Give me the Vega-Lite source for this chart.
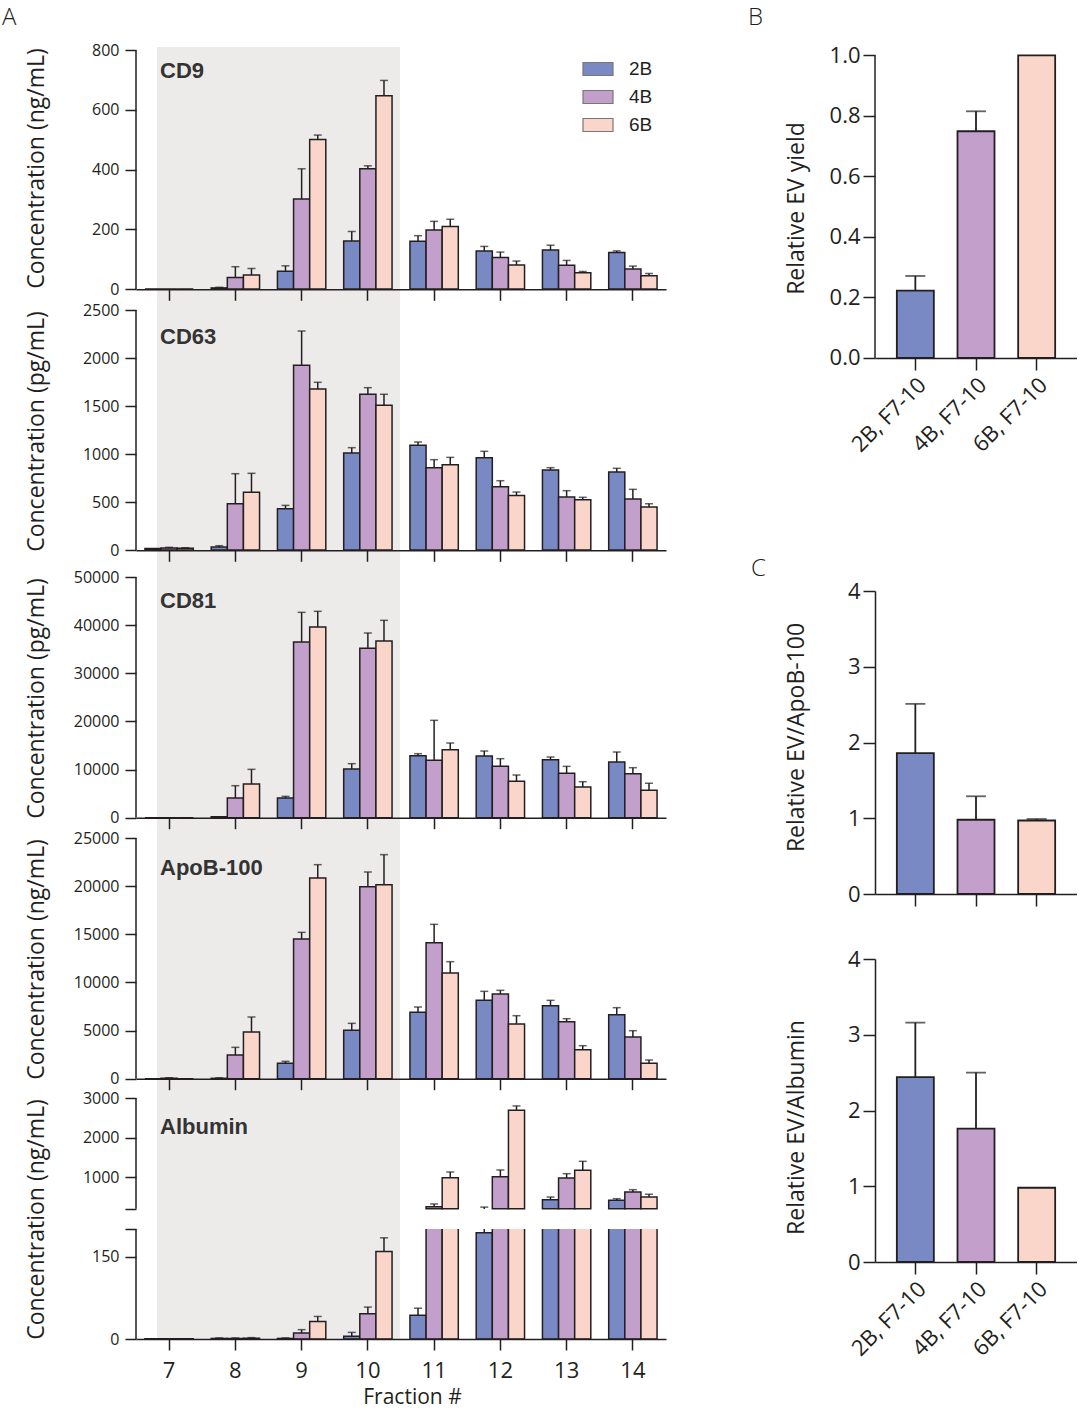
{
"$schema": "https://vega.github.io/schema/vega-lite/v6.json",
"padding": {"left": 2, "top": 6, "right": 0, "bottom": 0},
"background": "white",
"config": {
  "view": {"stroke": null},
  "font": "Open Sans",
  "axis": {"domainColor": "#231f20", "tickColor": "#231f20", "labelColor": "#231f20", "titleColor": "#231f20", "domainWidth": 1.5, "tickWidth": 1.5, "grid": false, "labelFont": "Open Sans", "titleFont": "Open Sans", "titleFontWeight": "normal", "titleBaseline": "alphabetic"},
  "legend": {"labelFont": "Liberation Sans", "labelColor": "#231f20"}
},
"datasets": {
"frac": [
{"m":"CD9","f":"7","g":"2B","v":0,"hi":null},{"m":"CD9","f":"7","g":"4B","v":0,"hi":null},{"m":"CD9","f":"7","g":"6B","v":0,"hi":null},
{"m":"CD9","f":"8","g":"2B","v":4,"hi":6},{"m":"CD9","f":"8","g":"4B","v":39,"hi":75},{"m":"CD9","f":"8","g":"6B","v":47,"hi":69},
{"m":"CD9","f":"9","g":"2B","v":60,"hi":78},{"m":"CD9","f":"9","g":"4B","v":302,"hi":403},{"m":"CD9","f":"9","g":"6B","v":501,"hi":516},
{"m":"CD9","f":"10","g":"2B","v":161,"hi":193},{"m":"CD9","f":"10","g":"4B","v":403,"hi":413},{"m":"CD9","f":"10","g":"6B","v":648,"hi":699},
{"m":"CD9","f":"11","g":"2B","v":160,"hi":179},{"m":"CD9","f":"11","g":"4B","v":198,"hi":227},{"m":"CD9","f":"11","g":"6B","v":210,"hi":234},
{"m":"CD9","f":"12","g":"2B","v":128,"hi":143},{"m":"CD9","f":"12","g":"4B","v":106,"hi":124},{"m":"CD9","f":"12","g":"6B","v":81,"hi":94},
{"m":"CD9","f":"13","g":"2B","v":131,"hi":147},{"m":"CD9","f":"13","g":"4B","v":80,"hi":96},{"m":"CD9","f":"13","g":"6B","v":55,"hi":59},
{"m":"CD9","f":"14","g":"2B","v":123,"hi":128},{"m":"CD9","f":"14","g":"4B","v":67,"hi":77},{"m":"CD9","f":"14","g":"6B","v":45,"hi":52},
{"m":"CD63","f":"7","g":"2B","v":15,"hi":null},{"m":"CD63","f":"7","g":"4B","v":20,"hi":28},{"m":"CD63","f":"7","g":"6B","v":18,"hi":24},
{"m":"CD63","f":"8","g":"2B","v":31,"hi":45},{"m":"CD63","f":"8","g":"4B","v":483,"hi":795},{"m":"CD63","f":"8","g":"6B","v":601,"hi":799},
{"m":"CD63","f":"9","g":"2B","v":431,"hi":465},{"m":"CD63","f":"9","g":"4B","v":1924,"hi":2281},{"m":"CD63","f":"9","g":"6B","v":1677,"hi":1747},
{"m":"CD63","f":"10","g":"2B","v":1010,"hi":1066},{"m":"CD63","f":"10","g":"4B","v":1622,"hi":1691},{"m":"CD63","f":"10","g":"6B","v":1507,"hi":1622},
{"m":"CD63","f":"11","g":"2B","v":1090,"hi":1125},{"m":"CD63","f":"11","g":"4B","v":858,"hi":941},{"m":"CD63","f":"11","g":"6B","v":889,"hi":965},
{"m":"CD63","f":"12","g":"2B","v":962,"hi":1028},{"m":"CD63","f":"12","g":"4B","v":660,"hi":722},{"m":"CD63","f":"12","g":"6B","v":569,"hi":604},
{"m":"CD63","f":"13","g":"2B","v":833,"hi":858},{"m":"CD63","f":"13","g":"4B","v":552,"hi":618},{"m":"CD63","f":"13","g":"6B","v":524,"hi":549},
{"m":"CD63","f":"14","g":"2B","v":812,"hi":851},{"m":"CD63","f":"14","g":"4B","v":531,"hi":632},{"m":"CD63","f":"14","g":"6B","v":448,"hi":483},
{"m":"CD81","f":"7","g":"2B","v":0,"hi":null},{"m":"CD81","f":"7","g":"4B","v":0,"hi":null},{"m":"CD81","f":"7","g":"6B","v":0,"hi":null},
{"m":"CD81","f":"8","g":"2B","v":200,"hi":null},{"m":"CD81","f":"8","g":"4B","v":4086,"hi":6648},{"m":"CD81","f":"8","g":"6B","v":6994,"hi":10041},
{"m":"CD81","f":"9","g":"2B","v":4086,"hi":4432},{"m":"CD81","f":"9","g":"4B","v":36496,"hi":42660},{"m":"CD81","f":"9","g":"6B","v":39612,"hi":42867},
{"m":"CD81","f":"10","g":"2B","v":10111,"hi":11219},{"m":"CD81","f":"10","g":"4B","v":35180,"hi":38366},{"m":"CD81","f":"10","g":"6B","v":36704,"hi":40997},
{"m":"CD81","f":"11","g":"2B","v":12881,"hi":13296},{"m":"CD81","f":"11","g":"4B","v":11911,"hi":20222},{"m":"CD81","f":"11","g":"6B","v":14127,"hi":15512},
{"m":"CD81","f":"12","g":"2B","v":12812,"hi":13850},{"m":"CD81","f":"12","g":"4B","v":10665,"hi":12258},{"m":"CD81","f":"12","g":"6B","v":7548,"hi":8864},
{"m":"CD81","f":"13","g":"2B","v":12050,"hi":12604},{"m":"CD81","f":"13","g":"4B","v":9211,"hi":10665},{"m":"CD81","f":"13","g":"6B","v":6371,"hi":7479},
{"m":"CD81","f":"14","g":"2B","v":11565,"hi":13643},{"m":"CD81","f":"14","g":"4B","v":9141,"hi":10388},{"m":"CD81","f":"14","g":"6B","v":5679,"hi":7133},
{"m":"ApoB-100","f":"7","g":"2B","v":0,"hi":null},{"m":"ApoB-100","f":"7","g":"4B","v":40,"hi":100},{"m":"ApoB-100","f":"7","g":"6B","v":0,"hi":null},
{"m":"ApoB-100","f":"8","g":"2B","v":40,"hi":90},{"m":"ApoB-100","f":"8","g":"4B","v":2458,"hi":3255},{"m":"ApoB-100","f":"8","g":"6B","v":4848,"hi":6406},
{"m":"ApoB-100","f":"9","g":"2B","v":1593,"hi":1800},{"m":"ApoB-100","f":"9","g":"4B","v":14508,"hi":15201},{"m":"ApoB-100","f":"9","g":"6B","v":20845,"hi":22230},
{"m":"ApoB-100","f":"10","g":"2B","v":5021,"hi":5748},{"m":"ApoB-100","f":"10","g":"4B","v":19945,"hi":21468},{"m":"ApoB-100","f":"10","g":"6B","v":20152,"hi":23269},
{"m":"ApoB-100","f":"11","g":"2B","v":6891,"hi":7445},{"m":"ApoB-100","f":"11","g":"4B","v":14127,"hi":16032},{"m":"ApoB-100","f":"11","g":"6B","v":10976,"hi":12154},
{"m":"ApoB-100","f":"12","g":"2B","v":8137,"hi":9072},{"m":"ApoB-100","f":"12","g":"4B","v":8795,"hi":9176},{"m":"ApoB-100","f":"12","g":"6B","v":5679,"hi":6544},
{"m":"ApoB-100","f":"13","g":"2B","v":7583,"hi":8137},{"m":"ApoB-100","f":"13","g":"4B","v":5921,"hi":6233},{"m":"ApoB-100","f":"13","g":"6B","v":3012,"hi":3428},
{"m":"ApoB-100","f":"14","g":"2B","v":6648,"hi":7375},{"m":"ApoB-100","f":"14","g":"4B","v":4328,"hi":4986},{"m":"ApoB-100","f":"14","g":"6B","v":1593,"hi":1939},
{"m":"Albumin","f":"7","g":"2B","v":0.5,"hi":null},{"m":"Albumin","f":"7","g":"4B","v":0.5,"hi":null},{"m":"Albumin","f":"7","g":"6B","v":0.5,"hi":null},
{"m":"Albumin","f":"8","g":"2B","v":1,"hi":2},{"m":"Albumin","f":"8","g":"4B","v":1,"hi":2},{"m":"Albumin","f":"8","g":"6B","v":1.5,"hi":2.5},
{"m":"Albumin","f":"9","g":"2B","v":1,"hi":2},{"m":"Albumin","f":"9","g":"4B","v":11,"hi":17},{"m":"Albumin","f":"9","g":"6B","v":32,"hi":41},
{"m":"Albumin","f":"10","g":"2B","v":5,"hi":12},{"m":"Albumin","f":"10","g":"4B","v":46,"hi":58},{"m":"Albumin","f":"10","g":"6B","v":159,"hi":184},
{"m":"Albumin","f":"11","g":"2B","v":43,"hi":56},{"m":"Albumin","f":"11","g":"4B","v":250,"hi":320},{"m":"Albumin","f":"11","g":"6B","v":985,"hi":1128},
{"m":"Albumin","f":"12","g":"2B","v":193,"hi":240},{"m":"Albumin","f":"12","g":"4B","v":1010,"hi":1179},{"m":"Albumin","f":"12","g":"6B","v":2689,"hi":2799},
{"m":"Albumin","f":"13","g":"2B","v":428,"hi":495},{"m":"Albumin","f":"13","g":"4B","v":976,"hi":1086},{"m":"Albumin","f":"13","g":"6B","v":1170,"hi":1398},
{"m":"Albumin","f":"14","g":"2B","v":411,"hi":453},{"m":"Albumin","f":"14","g":"4B","v":622,"hi":681},{"m":"Albumin","f":"14","g":"6B","v":495,"hi":563}
],
"ratio": [
{"p":"B","lab":"2B, F7-10","g":"2B","v":0.2225,"hi":0.271},
{"p":"B","lab":"4B, F7-10","g":"4B","v":0.749,"hi":0.815},
{"p":"B","lab":"6B, F7-10","g":"6B","v":1.0,"hi":null},
{"p":"CU","lab":"2B, F7-10","g":"2B","v":1.86,"hi":2.51},
{"p":"CU","lab":"4B, F7-10","g":"4B","v":0.98,"hi":1.29},
{"p":"CU","lab":"6B, F7-10","g":"6B","v":0.97,"hi":0.99},
{"p":"CL","lab":"2B, F7-10","g":"2B","v":2.44,"hi":3.16},
{"p":"CL","lab":"4B, F7-10","g":"4B","v":1.76,"hi":2.5},
{"p":"CL","lab":"6B, F7-10","g":"6B","v":0.98,"hi":null}
]
},
"spacing": 82,
"hconcat": [
{
 "title": {"text": "A", "anchor": "start", "frame": "group", "offset": 0, "dx": -134, "dy": 7, "fontSize": 24, "fontWeight": 300, "font": "Open Sans", "baseline": "alphabetic", "color": "#231f20"},
 "spacing": 0,
 "bounds": "flush",
 "resolve": {"scale": {"xOffset": "independent"}},
 "vconcat": [
 {
  "width": 530, "height": 263,
  "title": {"text": "CD9", "anchor": "start", "frame": "group", "offset": 0, "dx": 24, "dy": 58, "fontSize": 22, "font": "Liberation Sans", "fontWeight": "bold", "baseline": "alphabetic", "color": "#333333"},
  "layer": [
   {"data": {"values": [{"from": "7", "to": "10"}]}, "mark": {"type": "rect", "color": "#ECEBEA"},
    "encoding": {"x": {"field": "from", "type": "ordinal", "bandPosition": 0.317, "scale": {"domain": ["7","8","9","10","11","12","13","14"], "paddingInner": 0, "paddingOuter": 0}},
     "x2": {"field": "to", "bandPosition": 0.985},
     "y": {"datum": 811, "type": "quantitative", "scale": {"domain": [-70, 811], "nice": false, "zero": false}}, "y2": {"datum": -70}}},
   {"data": {"name": "frac"}, "transform": [{"filter": "datum.m == 'CD9'"}],
    "mark": {"type": "bar", "stroke": "#231f20", "strokeWidth": 1.5},
    "encoding": {"x": {"field": "f", "type": "ordinal", "scale": {"domain": ["7","8","9","10","11","12","13","14"], "paddingInner": 0, "paddingOuter": 0}, "axis": {"orient": "bottom", "offset": -20.7, "labels": false, "tickSize": 11, "title": null, "zindex": 1}},
     "xOffset": {"field": "g", "type": "nominal", "scale": {"domain": ["2B","4B","6B"], "paddingInner": 0, "paddingOuter": 0.555}},
     "y": {"field": "v", "type": "quantitative", "scale": {"domain": [-70, 811], "nice": false, "zero": false}, "axis": {"values": [0,200,400,600,800], "format": "d", "domain": false, "tickSize": 11, "labelFontSize": 16, "labelPadding": 6, "labelOverlap": false, "title": "Concentration (ng/mL)", "titleFontSize": 23, "titleX": -93, "titleY": 121, "zindex": 1}},
     "y2": {"datum": 0},
     "color": {"field": "g", "type": "nominal", "scale": {"domain": ["2B","4B","6B"], "range": ["#7889C4","#C3A0CC","#F9D6C9"]},
       "legend": {"orient": "none", "legendX": 446, "legendY": 6, "title": null, "symbolType": "M-1,-0.433H1V0.433H-1Z", "symbolSize": 900, "symbolStrokeColor": "#777777", "symbolStrokeWidth": 1.2, "labelFontSize": 19, "labelOffset": 15, "rowPadding": 2, "padding": 0}}}},
   {"data": {"name": "frac"}, "transform": [{"filter": "datum.m == 'CD9' && isValid(datum.hi)"}],
    "mark": {"type": "rule", "color": "#231f20", "strokeWidth": 1.5},
    "encoding": {"x": {"field": "f", "type": "ordinal"}, "xOffset": {"field": "g", "type": "nominal"},
     "y": {"field": "v", "type": "quantitative"}, "y2": {"field": "hi"}}},
   {"data": {"name": "frac"}, "transform": [{"filter": "datum.m == 'CD9' && isValid(datum.hi)"}],
    "mark": {"type": "tick", "orient": "horizontal", "size": 8, "thickness": 1.5, "color": "#231f20"},
    "encoding": {"x": {"field": "f", "type": "ordinal"}, "xOffset": {"field": "g", "type": "nominal"},
     "y": {"field": "hi", "type": "quantitative"}}},
   {"data": {"values": [{"axis": "y"}]}, "mark": {"type": "rule", "color": "#231f20", "strokeWidth": 1.5},
    "encoding": {"x": {"datum": "7", "type": "ordinal", "bandPosition": 0},
     "y": {"datum": 0, "type": "quantitative"}, "y2": {"datum": 800}}}
  ]
 },
 {
  "width": 530, "height": 267,
  "title": {"text": "CD63", "anchor": "start", "frame": "group", "offset": 0, "dx": 24, "dy": 64, "fontSize": 22, "font": "Liberation Sans", "fontWeight": "bold", "baseline": "alphabetic", "color": "#333333"},
  "layer": [
   {"data": {"values": [{"from": "7", "to": "10"}]}, "mark": {"type": "rect", "color": "#ECEBEA"},
    "encoding": {"x": {"field": "from", "type": "ordinal", "bandPosition": 0.317, "scale": {"domain": ["7","8","9","10","11","12","13","14"], "paddingInner": 0, "paddingOuter": 0}},
     "x2": {"field": "to", "bandPosition": 0.985},
     "y": {"datum": 2500, "type": "quantitative", "scale": {"domain": [-281, 2500], "nice": false, "zero": false}}, "y2": {"datum": -281}}},
   {"data": {"name": "frac"}, "transform": [{"filter": "datum.m == 'CD63'"}],
    "mark": {"type": "bar", "stroke": "#231f20", "strokeWidth": 1.5},
    "encoding": {"x": {"field": "f", "type": "ordinal", "scale": {"domain": ["7","8","9","10","11","12","13","14"], "paddingInner": 0, "paddingOuter": 0}, "axis": {"orient": "bottom", "offset": -26.7, "labels": false, "tickSize": 11, "title": null, "zindex": 1}},
     "xOffset": {"field": "g", "type": "nominal", "scale": {"domain": ["2B","4B","6B"], "paddingInner": 0, "paddingOuter": 0.555}},
     "y": {"field": "v", "type": "quantitative", "scale": {"domain": [-281, 2500], "nice": false, "zero": false}, "axis": {"values": [0,500,1000,1500,2000,2500], "format": "d", "domain": false, "tickSize": 11, "labelFontSize": 16, "labelPadding": 6, "labelOverlap": false, "title": "Concentration (pg/mL)", "titleFontSize": 23, "titleX": -93, "titleY": 121, "zindex": 1}},
     "y2": {"datum": 0},
     "color": {"field": "g", "type": "nominal", "scale": {"domain": ["2B","4B","6B"], "range": ["#7889C4","#C3A0CC","#F9D6C9"]}, "legend": null}}},
   {"data": {"name": "frac"}, "transform": [{"filter": "datum.m == 'CD63' && isValid(datum.hi)"}],
    "mark": {"type": "rule", "color": "#231f20", "strokeWidth": 1.5},
    "encoding": {"x": {"field": "f", "type": "ordinal"}, "xOffset": {"field": "g", "type": "nominal"},
     "y": {"field": "v", "type": "quantitative"}, "y2": {"field": "hi"}}},
   {"data": {"name": "frac"}, "transform": [{"filter": "datum.m == 'CD63' && isValid(datum.hi)"}],
    "mark": {"type": "tick", "orient": "horizontal", "size": 8, "thickness": 1.5, "color": "#231f20"},
    "encoding": {"x": {"field": "f", "type": "ordinal"}, "xOffset": {"field": "g", "type": "nominal"},
     "y": {"field": "hi", "type": "quantitative"}}},
   {"data": {"values": [{"axis": "y"}]}, "mark": {"type": "rule", "color": "#231f20", "strokeWidth": 1.5},
    "encoding": {"x": {"datum": "7", "type": "ordinal", "bandPosition": 0},
     "y": {"datum": 0, "type": "quantitative"}, "y2": {"datum": 2500}}}
  ]
 },
 {
  "width": 530, "height": 261,
  "title": {"text": "CD81", "anchor": "start", "frame": "group", "offset": 0, "dx": 24, "dy": 61, "fontSize": 22, "font": "Liberation Sans", "fontWeight": "bold", "baseline": "alphabetic", "color": "#333333"},
  "layer": [
   {"data": {"values": [{"from": "7", "to": "10"}]}, "mark": {"type": "rect", "color": "#ECEBEA"},
    "encoding": {"x": {"field": "from", "type": "ordinal", "bandPosition": 0.317, "scale": {"domain": ["7","8","9","10","11","12","13","14"], "paddingInner": 0, "paddingOuter": 0}},
     "x2": {"field": "to", "bandPosition": 0.985},
     "y": {"datum": 50000, "type": "quantitative", "scale": {"domain": [-4220, 50000], "nice": false, "zero": false}}, "y2": {"datum": -4220}}},
   {"data": {"name": "frac"}, "transform": [{"filter": "datum.m == 'CD81'"}],
    "mark": {"type": "bar", "stroke": "#231f20", "strokeWidth": 1.5},
    "encoding": {"x": {"field": "f", "type": "ordinal", "scale": {"domain": ["7","8","9","10","11","12","13","14"], "paddingInner": 0, "paddingOuter": 0}, "axis": {"orient": "bottom", "offset": -20.3, "labels": false, "tickSize": 11, "title": null, "zindex": 1}},
     "xOffset": {"field": "g", "type": "nominal", "scale": {"domain": ["2B","4B","6B"], "paddingInner": 0, "paddingOuter": 0.555}},
     "y": {"field": "v", "type": "quantitative", "scale": {"domain": [-4220, 50000], "nice": false, "zero": false}, "axis": {"values": [0,10000,20000,30000,40000,50000], "format": "d", "domain": false, "tickSize": 11, "labelFontSize": 16, "labelPadding": 6, "labelOverlap": false, "title": "Concentration (pg/mL)", "titleFontSize": 23, "titleX": -93, "titleY": 121, "zindex": 1}},
     "y2": {"datum": 0},
     "color": {"field": "g", "type": "nominal", "scale": {"domain": ["2B","4B","6B"], "range": ["#7889C4","#C3A0CC","#F9D6C9"]}, "legend": null}}},
   {"data": {"name": "frac"}, "transform": [{"filter": "datum.m == 'CD81' && isValid(datum.hi)"}],
    "mark": {"type": "rule", "color": "#231f20", "strokeWidth": 1.5},
    "encoding": {"x": {"field": "f", "type": "ordinal"}, "xOffset": {"field": "g", "type": "nominal"},
     "y": {"field": "v", "type": "quantitative"}, "y2": {"field": "hi"}}},
   {"data": {"name": "frac"}, "transform": [{"filter": "datum.m == 'CD81' && isValid(datum.hi)"}],
    "mark": {"type": "tick", "orient": "horizontal", "size": 8, "thickness": 1.5, "color": "#231f20"},
    "encoding": {"x": {"field": "f", "type": "ordinal"}, "xOffset": {"field": "g", "type": "nominal"},
     "y": {"field": "hi", "type": "quantitative"}}},
   {"data": {"values": [{"axis": "y"}]}, "mark": {"type": "rule", "color": "#231f20", "strokeWidth": 1.5},
    "encoding": {"x": {"datum": "7", "type": "ordinal", "bandPosition": 0},
     "y": {"datum": 0, "type": "quantitative"}, "y2": {"datum": 50000}}}
  ]
 },
 {
  "width": 530, "height": 260,
  "title": {"text": "ApoB-100", "anchor": "start", "frame": "group", "offset": 0, "dx": 24, "dy": 67, "fontSize": 22, "font": "Liberation Sans", "fontWeight": "bold", "baseline": "alphabetic", "color": "#333333"},
  "layer": [
   {"data": {"values": [{"from": "7", "to": "10"}]}, "mark": {"type": "rect", "color": "#ECEBEA"},
    "encoding": {"x": {"field": "from", "type": "ordinal", "bandPosition": 0.317, "scale": {"domain": ["7","8","9","10","11","12","13","14"], "paddingInner": 0, "paddingOuter": 0}},
     "x2": {"field": "to", "bandPosition": 0.985},
     "y": {"datum": 25000, "type": "quantitative", "scale": {"domain": [-2005, 25000], "nice": false, "zero": false}}, "y2": {"datum": -2005}}},
   {"data": {"name": "frac"}, "transform": [{"filter": "datum.m == 'ApoB-100'"}],
    "mark": {"type": "bar", "stroke": "#231f20", "strokeWidth": 1.5},
    "encoding": {"x": {"field": "f", "type": "ordinal", "scale": {"domain": ["7","8","9","10","11","12","13","14"], "paddingInner": 0, "paddingOuter": 0}, "axis": {"orient": "bottom", "offset": -19.3, "labels": false, "tickSize": 11, "title": null, "zindex": 1}},
     "xOffset": {"field": "g", "type": "nominal", "scale": {"domain": ["2B","4B","6B"], "paddingInner": 0, "paddingOuter": 0.555}},
     "y": {"field": "v", "type": "quantitative", "scale": {"domain": [-2005, 25000], "nice": false, "zero": false}, "axis": {"values": [0,5000,10000,15000,20000,25000], "format": "d", "domain": false, "tickSize": 11, "labelFontSize": 16, "labelPadding": 6, "labelOverlap": false, "title": "Concentration (ng/mL)", "titleFontSize": 23, "titleX": -93, "titleY": 121, "zindex": 1}},
     "y2": {"datum": 0},
     "color": {"field": "g", "type": "nominal", "scale": {"domain": ["2B","4B","6B"], "range": ["#7889C4","#C3A0CC","#F9D6C9"]}, "legend": null}}},
   {"data": {"name": "frac"}, "transform": [{"filter": "datum.m == 'ApoB-100' && isValid(datum.hi)"}],
    "mark": {"type": "rule", "color": "#231f20", "strokeWidth": 1.5},
    "encoding": {"x": {"field": "f", "type": "ordinal"}, "xOffset": {"field": "g", "type": "nominal"},
     "y": {"field": "v", "type": "quantitative"}, "y2": {"field": "hi"}}},
   {"data": {"name": "frac"}, "transform": [{"filter": "datum.m == 'ApoB-100' && isValid(datum.hi)"}],
    "mark": {"type": "tick", "orient": "horizontal", "size": 8, "thickness": 1.5, "color": "#231f20"},
    "encoding": {"x": {"field": "f", "type": "ordinal"}, "xOffset": {"field": "g", "type": "nominal"},
     "y": {"field": "hi", "type": "quantitative"}}},
   {"data": {"values": [{"axis": "y"}]}, "mark": {"type": "rule", "color": "#231f20", "strokeWidth": 1.5},
    "encoding": {"x": {"datum": "7", "type": "ordinal", "bandPosition": 0},
     "y": {"datum": 0, "type": "quantitative"}, "y2": {"datum": 25000}}}
  ]
 },
 {
  "width": 530, "height": 131,
  "title": {"text": "Albumin", "anchor": "start", "frame": "group", "offset": 0, "dx": 24, "dy": 66, "fontSize": 22, "font": "Liberation Sans", "fontWeight": "bold", "baseline": "alphabetic", "color": "#333333"},
  "layer": [
   {"data": {"values": [{"from": "7", "to": "10"}]}, "mark": {"type": "rect", "color": "#ECEBEA"},
    "encoding": {"x": {"field": "from", "type": "ordinal", "bandPosition": 0.317, "scale": {"domain": ["7","8","9","10","11","12","13","14"], "paddingInner": 0, "paddingOuter": 0}, "axis": null},
     "x2": {"field": "to", "bandPosition": 0.985},
     "y": {"datum": 3000, "type": "quantitative", "scale": {"domain": [-313.5, 3000], "nice": false, "zero": false}}, "y2": {"datum": -313.5}}},
   {"data": {"name": "frac"}, "transform": [{"filter": "datum.m == 'Albumin' && datum.v > 200"}],
    "mark": {"type": "bar", "stroke": "#231f20", "strokeWidth": 1.5},
    "encoding": {"x": {"field": "f", "type": "ordinal", "scale": {"domain": ["7","8","9","10","11","12","13","14"], "paddingInner": 0, "paddingOuter": 0}, "axis": null},
     "xOffset": {"field": "g", "type": "nominal", "scale": {"domain": ["2B","4B","6B"], "paddingInner": 0, "paddingOuter": 0.555}},
     "y": {"field": "v", "type": "quantitative", "scale": {"domain": [-313.5, 3000], "nice": false, "zero": false}, "axis": {"values": [200,1000,2000,3000], "labelExpr": "datum.value == 200 ? '' : datum.label", "format": "d", "domain": false, "tickSize": 11, "labelFontSize": 16, "labelPadding": 6, "labelOverlap": false, "title": "Concentration (ng/mL)", "titleFontSize": 23, "titleX": -93, "titleY": 121, "zindex": 1}},
     "y2": {"datum": 200},
     "color": {"field": "g", "type": "nominal", "scale": {"domain": ["2B","4B","6B"], "range": ["#7889C4","#C3A0CC","#F9D6C9"]}, "legend": null}}},
   {"data": {"name": "frac"}, "transform": [{"filter": "datum.m == 'Albumin' && isValid(datum.hi) && datum.hi > 200"}],
    "mark": {"type": "rule", "color": "#231f20", "strokeWidth": 1.5},
    "encoding": {"x": {"field": "f", "type": "ordinal", "axis": null}, "xOffset": {"field": "g", "type": "nominal"},
     "y": {"field": "v", "type": "quantitative"}, "y2": {"field": "hi"}}},
   {"data": {"name": "frac"}, "transform": [{"filter": "datum.m == 'Albumin' && isValid(datum.hi) && datum.hi > 200"}],
    "mark": {"type": "tick", "orient": "horizontal", "size": 8, "thickness": 1.5, "color": "#231f20"},
    "encoding": {"x": {"field": "f", "type": "ordinal", "axis": null}, "xOffset": {"field": "g", "type": "nominal"},
     "y": {"field": "hi", "type": "quantitative"}}},
   {"data": {"values": [{"axis": "y"}]}, "mark": {"type": "rule", "color": "#231f20", "strokeWidth": 1.5},
    "encoding": {"x": {"datum": "7", "type": "ordinal", "bandPosition": 0, "axis": null},
     "y": {"datum": 200, "type": "quantitative"}, "y2": {"datum": 3000}}}
  ]
 },
 {
  "width": 530, "height": 110,
  "layer": [
   {"data": {"values": [{"from": "7", "to": "10"}]}, "mark": {"type": "rect", "color": "#ECEBEA"},
    "encoding": {"x": {"field": "from", "type": "ordinal", "bandPosition": 0.317, "scale": {"domain": ["7","8","9","10","11","12","13","14"], "paddingInner": 0, "paddingOuter": 0}},
     "x2": {"field": "to", "bandPosition": 0.985},
     "y": {"datum": 200, "type": "quantitative", "scale": {"domain": [0, 200], "nice": false, "zero": false}}, "y2": {"datum": 0}}},
   {"data": {"name": "frac"}, "transform": [{"filter": "datum.m == 'Albumin'"}],
    "mark": {"type": "bar", "stroke": "#231f20", "strokeWidth": 1.5, "clip": true},
    "encoding": {"x": {"field": "f", "type": "ordinal", "scale": {"domain": ["7","8","9","10","11","12","13","14"], "paddingInner": 0, "paddingOuter": 0}, "axis": {"orient": "bottom", "offset": 0, "labels": true, "labelAngle": 0, "labelAlign": "center", "labelFontSize": 22, "labelPadding": 10, "labelBaseline": "top", "tickSize": 11, "title": "Fraction #", "titleFontSize": 21, "titlePadding": 5, "titleBaseline": "top", "titleX": 276, "zindex": 1}},
     "xOffset": {"field": "g", "type": "nominal", "scale": {"domain": ["2B","4B","6B"], "paddingInner": 0, "paddingOuter": 0.555}},
     "y": {"field": "v", "type": "quantitative", "scale": {"domain": [0, 200], "nice": false, "zero": false}, "axis": {"values": [0,150,200], "labelExpr": "datum.value == 200 ? '' : datum.label", "domain": false, "tickSize": 11, "labelFontSize": 16, "labelPadding": 6, "labelOverlap": false, "title": null, "zindex": 1}},
     "y2": {"datum": 0},
     "color": {"field": "g", "type": "nominal", "scale": {"domain": ["2B","4B","6B"], "range": ["#7889C4","#C3A0CC","#F9D6C9"]}, "legend": null}}},
   {"data": {"name": "frac"}, "transform": [{"filter": "datum.m == 'Albumin' && isValid(datum.hi)"}],
    "mark": {"type": "rule", "color": "#231f20", "strokeWidth": 1.5, "clip": true},
    "encoding": {"x": {"field": "f", "type": "ordinal"}, "xOffset": {"field": "g", "type": "nominal"},
     "y": {"field": "v", "type": "quantitative"}, "y2": {"field": "hi"}}},
   {"data": {"name": "frac"}, "transform": [{"filter": "datum.m == 'Albumin' && isValid(datum.hi)"}],
    "mark": {"type": "tick", "orient": "horizontal", "size": 8, "thickness": 1.5, "color": "#231f20", "clip": true},
    "encoding": {"x": {"field": "f", "type": "ordinal"}, "xOffset": {"field": "g", "type": "nominal"},
     "y": {"field": "hi", "type": "quantitative"}}},
   {"data": {"values": [{"axis": "y"}]}, "mark": {"type": "rule", "color": "#231f20", "strokeWidth": 1.5},
    "encoding": {"x": {"datum": "7", "type": "ordinal", "bandPosition": 0},
     "y": {"datum": 0, "type": "quantitative"}, "y2": {"datum": 200}}}
  ]
 }
 ]
},
{
 "spacing": 65,
 "bounds": "flush",
 "vconcat": [
 {
  "width": 202, "height": 479,
  "title": {"text": "B", "anchor": "start", "frame": "group", "offset": 0, "dx": -127, "dy": 5, "fontSize": 24, "fontWeight": 300, "font": "Open Sans", "baseline": "alphabetic", "color": "#231f20"},
  "layer": [
   {"data": {"name": "ratio"}, "transform": [{"filter": "datum.p == 'B'"}],
    "mark": {"type": "bar", "stroke": "#231f20", "strokeWidth": 1.8},
    "encoding": {"x": {"field": "lab", "type": "ordinal", "scale": {"domain": ["2B, F7-10","4B, F7-10","6B, F7-10"], "paddingInner": 0.39, "paddingOuter": 0.36}, "axis": {"offset": -168, "labelAngle": -45, "labelFontSize": 22, "tickSize": 12, "labelPadding": 4, "title": null, "zindex": 1}},
     "y": {"field": "v", "type": "quantitative", "scale": {"domain": [-0.555, 1.0274], "nice": false, "zero": false}, "axis": {"values": [0,0.2,0.4,0.6,0.8,1.0], "format": ".1f", "domain": false, "tickSize": 12, "labelFontSize": 22, "labelPadding": 3, "labelOverlap": false, "title": "Relative EV yield", "titleFontSize": 23, "titleX": -72, "titleY": 161, "zindex": 1}},
     "y2": {"datum": 0},
     "color": {"field": "g", "type": "nominal", "scale": {"domain": ["2B","4B","6B"], "range": ["#7889C4","#C3A0CC","#F9D6C9"]}, "legend": null}}},
   {"data": {"name": "ratio"}, "transform": [{"filter": "datum.p == 'B' && isValid(datum.hi)"}],
    "mark": {"type": "rule", "color": "#231f20", "strokeWidth": 1.8},
    "encoding": {"x": {"field": "lab", "type": "ordinal"}, "y": {"field": "v", "type": "quantitative"}, "y2": {"field": "hi"}}},
   {"data": {"name": "ratio"}, "transform": [{"filter": "datum.p == 'B' && isValid(datum.hi)"}],
    "mark": {"type": "tick", "orient": "horizontal", "size": 20, "thickness": 1.8, "color": "#231f20"},
    "encoding": {"x": {"field": "lab", "type": "ordinal"}, "y": {"field": "hi", "type": "quantitative"}}},
   {"data": {"values": [{"axis": "y"}]}, "mark": {"type": "rule", "color": "#231f20", "strokeWidth": 1.5},
    "encoding": {"x": {"datum": "2B, F7-10", "type": "ordinal", "bandPosition": -0.59},
     "y": {"datum": 0, "type": "quantitative"}, "y2": {"datum": 1.0}}}
  ]
 },
 {
  "width": 202, "height": 303,
  "title": {"text": "C", "anchor": "start", "frame": "group", "offset": 0, "dx": -124, "dy": 20, "fontSize": 24, "fontWeight": 300, "font": "Open Sans", "baseline": "alphabetic", "color": "#231f20"},
  "layer": [
   {"data": {"name": "ratio"}, "transform": [{"filter": "datum.p == 'CU'"}],
    "mark": {"type": "bar", "stroke": "#231f20", "strokeWidth": 1.8},
    "encoding": {"x": {"field": "lab", "type": "ordinal", "scale": {"domain": ["2B, F7-10","4B, F7-10","6B, F7-10"], "paddingInner": 0.39, "paddingOuter": 0.36}, "axis": {"labels": false, "tickSize": 12, "title": null, "zindex": 1}},
     "y": {"field": "v", "type": "quantitative", "scale": {"domain": [0, 4], "nice": false, "zero": false}, "axis": {"values": [0,1,2,3,4], "format": "d", "domain": true, "tickSize": 12, "labelFontSize": 22, "labelPadding": 3, "labelOverlap": false, "title": "Relative EV/ApoB-100", "titleFontSize": 23, "titleX": -72, "titleY": 146, "zindex": 1}},
     "y2": {"datum": 0},
     "color": {"field": "g", "type": "nominal", "scale": {"domain": ["2B","4B","6B"], "range": ["#7889C4","#C3A0CC","#F9D6C9"]}, "legend": null}}},
   {"data": {"name": "ratio"}, "transform": [{"filter": "datum.p == 'CU' && isValid(datum.hi)"}],
    "mark": {"type": "rule", "color": "#231f20", "strokeWidth": 1.8},
    "encoding": {"x": {"field": "lab", "type": "ordinal"}, "y": {"field": "v", "type": "quantitative"}, "y2": {"field": "hi"}}},
   {"data": {"name": "ratio"}, "transform": [{"filter": "datum.p == 'CU' && isValid(datum.hi)"}],
    "mark": {"type": "tick", "orient": "horizontal", "size": 20, "thickness": 1.8, "color": "#231f20"},
    "encoding": {"x": {"field": "lab", "type": "ordinal"}, "y": {"field": "hi", "type": "quantitative"}}}
  ]
 },
 {
  "width": 202, "height": 303,
  "layer": [
   {"data": {"name": "ratio"}, "transform": [{"filter": "datum.p == 'CL'"}],
    "mark": {"type": "bar", "stroke": "#231f20", "strokeWidth": 1.8},
    "encoding": {"x": {"field": "lab", "type": "ordinal", "scale": {"domain": ["2B, F7-10","4B, F7-10","6B, F7-10"], "paddingInner": 0.39, "paddingOuter": 0.36}, "axis": {"labelAngle": -45, "labelFontSize": 22, "tickSize": 12, "labelPadding": 4, "title": null, "zindex": 1}},
     "y": {"field": "v", "type": "quantitative", "scale": {"domain": [0, 4], "nice": false, "zero": false}, "axis": {"values": [0,1,2,3,4], "format": "d", "domain": true, "tickSize": 12, "labelFontSize": 22, "labelPadding": 3, "labelOverlap": false, "title": "Relative EV/Albumin", "titleFontSize": 23, "titleX": -72, "titleY": 168, "zindex": 1}},
     "y2": {"datum": 0},
     "color": {"field": "g", "type": "nominal", "scale": {"domain": ["2B","4B","6B"], "range": ["#7889C4","#C3A0CC","#F9D6C9"]}, "legend": null}}},
   {"data": {"name": "ratio"}, "transform": [{"filter": "datum.p == 'CL' && isValid(datum.hi)"}],
    "mark": {"type": "rule", "color": "#231f20", "strokeWidth": 1.8},
    "encoding": {"x": {"field": "lab", "type": "ordinal"}, "y": {"field": "v", "type": "quantitative"}, "y2": {"field": "hi"}}},
   {"data": {"name": "ratio"}, "transform": [{"filter": "datum.p == 'CL' && isValid(datum.hi)"}],
    "mark": {"type": "tick", "orient": "horizontal", "size": 20, "thickness": 1.8, "color": "#231f20"},
    "encoding": {"x": {"field": "lab", "type": "ordinal"}, "y": {"field": "hi", "type": "quantitative"}}}
  ]
 }
 ]
}
]
}
